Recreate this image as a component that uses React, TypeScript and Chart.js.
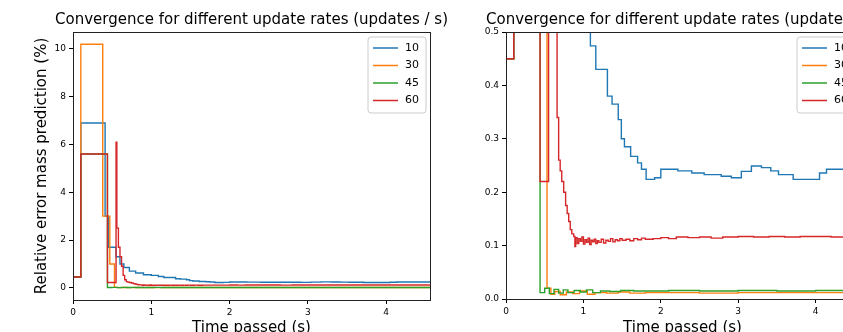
import React, { useEffect, useRef } from "react";
import { Chart, registerables } from "chart.js";

Chart.register(...registerables);

const TITLE = "Convergence for different update rates (updates / s)";
const X_LABEL = "Time passed (s)";
const Y_LABEL = "Relative error mass prediction (%)";
const SERIES_LABELS = ["10", "30", "45", "60"];
const COLORS = ["#1f77b4", "#ff7f0e", "#2ca02c", "#d62728"];

const X_TICKS = [0, 1, 2, 3, 4];
const LEFT_Y_TICKS = [0, 2, 4, 6, 8, 10];
const RIGHT_Y_TICKS = [0, 0.1, 0.2, 0.3, 0.4, 0.5];

// 10 updates / s
const T_10 = [0, 0.1, 0.41, 0.45, 0.55, 0.6, 0.65, 0.72, 0.8, 0.9, 1.0, 1.09, 1.16, 1.31, 1.37, 1.45, 1.49, 1.53, 1.61, 1.7, 1.75, 1.81, 1.92, 2.0, 2.22, 2.4, 2.56, 2.78, 2.91, 3.04, 3.17, 3.3, 3.42, 3.52, 3.71, 3.9, 4.05, 4.14, 4.38, 4.6];
const V_10 = [0.45, 6.9, 3.0, 1.7, 1.3, 1.0, 0.85, 0.7, 0.62, 0.55, 0.52, 0.474, 0.43, 0.38, 0.365, 0.336, 0.3, 0.285, 0.267, 0.255, 0.243, 0.224, 0.227, 0.243, 0.24, 0.236, 0.233, 0.23, 0.227, 0.239, 0.249, 0.246, 0.24, 0.233, 0.224, 0.224, 0.236, 0.243, 0.245, 0.245];

// 30 updates / s
const T_30 = [0, 0.1, 0.38, 0.47, 0.53, 0.58, 0.63, 0.7, 0.78, 0.86, 0.95, 1.05, 1.15, 1.3, 1.45, 1.6, 1.8, 2.1, 2.5, 3.0, 3.5, 4.0, 4.6];
const V_30 = [0.45, 10.2, 3.0, 1.0, 0.02, 0.009, 0.014, 0.008, 0.013, 0.01, 0.015, 0.009, 0.012, 0.011, 0.013, 0.011, 0.012, 0.012, 0.011, 0.012, 0.012, 0.012, 0.012];

// 45 updates / s
const T_45 = [0, 0.1, 0.44, 0.5, 0.56, 0.62, 0.68, 0.74, 0.8, 0.88, 0.96, 1.04, 1.12, 1.22, 1.34, 1.48, 1.65, 1.85, 2.1, 2.5, 3.0, 3.5, 4.0, 4.6];
const V_45 = [0.45, 5.6, 0.012, 0.02, 0.01, 0.018, 0.011, 0.017, 0.012, 0.016, 0.013, 0.017, 0.012, 0.015, 0.014, 0.016, 0.015, 0.015, 0.016, 0.015, 0.016, 0.015, 0.016, 0.016];

// 60 updates / s
const T_60 = [0, 0.1, 0.44, 0.55, 0.56, 0.58, 0.6, 0.62, 0.64, 0.66, 0.68, 0.7, 0.72, 0.745, 0.77, 0.79, 0.81, 0.83, 0.85, 0.875, 0.89, 0.9, 0.92, 0.94, 0.96, 0.98, 1.0, 1.02, 1.04, 1.06, 1.08, 1.1, 1.12, 1.14, 1.16, 1.18, 1.2, 1.23, 1.26, 1.29, 1.32, 1.35, 1.38, 1.41, 1.44, 1.47, 1.5, 1.55, 1.6, 1.65, 1.7, 1.75, 1.8, 1.9, 2.0, 2.1, 2.2, 2.35, 2.5, 2.65, 2.8, 3.0, 3.2, 3.4, 3.6, 3.8, 4.0, 4.2, 4.4, 4.6];
const V_60 = [0.45, 5.6, 0.22, 6.1, 2.5, 1.7, 1.3, 0.9, 0.52, 0.34, 0.26, 0.24, 0.22, 0.2, 0.175, 0.16, 0.145, 0.13, 0.122, 0.117, 0.098, 0.115, 0.104, 0.113, 0.108, 0.116, 0.103, 0.111, 0.106, 0.114, 0.102, 0.11, 0.107, 0.112, 0.104, 0.109, 0.106, 0.112, 0.105, 0.11, 0.108, 0.113, 0.107, 0.111, 0.109, 0.113, 0.11, 0.112, 0.109, 0.113, 0.111, 0.114, 0.112, 0.113, 0.115, 0.113, 0.116, 0.115, 0.116, 0.114, 0.116, 0.117, 0.116, 0.117, 0.116, 0.117, 0.117, 0.116, 0.117, 0.117];

const SERIES_T = [T_10, T_30, T_45, T_60];
const SERIES_V = [V_10, V_30, V_45, V_60];

const FONT = "'DejaVu Sans', sans-serif";
Chart.defaults.font.family = FONT;
Chart.defaults.color = "#000";

const framePlugin = {
  id: "frame",
  afterDatasetsDraw(chart: any) {
    const { ctx, chartArea: a } = chart;
    ctx.save();
    ctx.strokeStyle = "#222";
    ctx.lineWidth = 1;
    ctx.strokeRect(Math.round(a.left) + 0.5, Math.round(a.top) + 0.5, Math.round(a.right - a.left), Math.round(a.bottom - a.top));
    ctx.restore();
  },
};

const legendPlugin = {
  id: "boxLegend",
  afterDraw(chart: any) {
    const { ctx, chartArea: a } = chart;
    const w = 58;
    const h = 76;
    const right = a.right - 4;
    const left = right - w;
    const top = a.top + 5;
    const r = 3;
    ctx.save();
    ctx.beginPath();
    ctx.moveTo(left + r, top);
    ctx.lineTo(right - r, top);
    ctx.arcTo(right, top, right, top + r, r);
    ctx.lineTo(right, top + h - r);
    ctx.arcTo(right, top + h, right - r, top + h, r);
    ctx.lineTo(left + r, top + h);
    ctx.arcTo(left, top + h, left, top + h - r, r);
    ctx.lineTo(left, top + r);
    ctx.arcTo(left, top, left + r, top, r);
    ctx.closePath();
    ctx.fillStyle = "rgba(255,255,255,0.8)";
    ctx.fill();
    ctx.strokeStyle = "#cccccc";
    ctx.lineWidth = 1;
    ctx.stroke();
    chart.data.datasets.forEach((ds: any, i: number) => {
      const y = top + 11 + i * 17.5;
      ctx.strokeStyle = ds.borderColor;
      ctx.lineWidth = 1.5;
      ctx.beginPath();
      ctx.moveTo(left + 5, y);
      ctx.lineTo(left + 30, y);
      ctx.stroke();
      ctx.fillStyle = "#000";
      ctx.font = `11px ${FONT}`;
      ctx.textBaseline = "middle";
      ctx.textAlign = "left";
      ctx.fillText(ds.label, left + 37, y);
    });
    ctx.restore();
  },
};

function makeConfig(opts: {
  yMin: number;
  yMax: number;
  yTicks: number[];
  yFmt: (v: number) => string;
  showYTitle: boolean;
  xMax: number;
  xAxisHeight: number;
}): any {
  const datasets = SERIES_LABELS.map((label, i) => ({
    label,
    data: SERIES_T[i].map((t, j) => ({ x: t, y: SERIES_V[i][j] })),
    borderColor: COLORS[i],
    backgroundColor: COLORS[i],
    borderWidth: 1.4,
    pointRadius: 0,
    stepped: "before",
    tension: 0,
    fill: false,
    order: SERIES_LABELS.length - i,
  }));
  return {
    type: "line",
    data: { datasets },
    plugins: [framePlugin, legendPlugin],
    options: {
      animation: false,
      responsive: false,
      devicePixelRatio: 1,
      events: [],
      layout: { padding: { left: 0, right: 0, top: 0, bottom: 8 } },
      plugins: {
        legend: { display: false },
        tooltip: { enabled: false },
        title: {
          display: true,
          text: TITLE,
          color: "#000",
          font: { size: 15, weight: "normal", family: FONT },
          padding: { top: 11, bottom: 3 },
        },
      },
      scales: {
        x: {
          type: "linear",
          min: 0,
          max: opts.xMax,
          afterFit: (s: any) => {
            s.height = opts.xAxisHeight;
          },
          afterBuildTicks: (s: any) => {
            s.ticks = X_TICKS.map((v) => ({ value: v }));
          },
          ticks: {
            font: { size: 9 },
            color: "#000",
            padding: 3,
            maxRotation: 0,
            callback: (v: any) => String(v),
          },
          grid: { display: true, drawOnChartArea: false, drawTicks: true, tickLength: 4, color: "#000" },
          border: { display: false },
          title: {
            display: true,
            text: X_LABEL,
            color: "#000",
            font: { size: 15, family: FONT },
            padding: { top: 0, bottom: 0 },
          },
        },
        y: {
          type: "linear",
          position: "left",
          min: opts.yMin,
          max: opts.yMax,
          afterFit: (s: any) => {
            s.width = 73;
          },
          afterBuildTicks: (s: any) => {
            s.ticks = opts.yTicks.map((v) => ({ value: v }));
          },
          ticks: {
            font: { size: 9 },
            color: "#000",
            padding: 3,
            callback: (v: any) => opts.yFmt(Number(v)),
          },
          grid: { display: true, drawOnChartArea: false, drawTicks: true, tickLength: 4, color: "#000" },
          border: { display: false },
          title: {
            display: opts.showYTitle,
            text: Y_LABEL,
            color: "#000",
            font: { size: 15, family: FONT },
            padding: { top: 33, bottom: 0 },
          },
        },
        // empty spacer on the right so the title centres over the plot area
        spacer: {
          type: "linear",
          position: "right",
          min: 0,
          max: 1,
          afterFit: (s: any) => {
            s.width = 73;
          },
          ticks: { display: false },
          grid: { display: false },
          border: { display: false },
        },
      },
    },
  };
}

function Panel(props: { left: number; width: number; height: number; config: () => any }) {
  const ref = useRef<HTMLCanvasElement>(null);
  useEffect(() => {
    const chart = new Chart(ref.current as HTMLCanvasElement, props.config());
    return () => chart.destroy();
  }, []);
  return (
    <canvas
      ref={ref}
      width={props.width}
      height={props.height}
      style={{ position: "absolute", left: props.left, top: 0, width: props.width, height: props.height }}
    />
  );
}

export default function App() {
  useEffect(() => {
    document.body.style.margin = "0";
    document.body.style.overflow = "hidden";
  }, []);
  return (
    <div style={{ position: "fixed", left: 0, top: 0, width: 843, height: 332, overflow: "hidden", background: "#fff" }}>
      <Panel
        left={0}
        width={503}
        height={345}
        config={() =>
          makeConfig({
            yMin: -0.51,
            yMax: 10.71,
            yTicks: LEFT_Y_TICKS,
            yFmt: (v) => String(v),
            showYTitle: true,
            xMax: 4.56,
            xAxisHeight: 37,
          })
        }
      />
      <Panel
        left={433}
        width={499}
        height={345}
        config={() =>
          makeConfig({
            yMin: 0,
            yMax: 0.5,
            yTicks: RIGHT_Y_TICKS,
            yFmt: (v) => v.toFixed(1),
            showYTitle: false,
            xMax: 4.56,
            xAxisHeight: 38,
          })
        }
      />
    </div>
  );
}
